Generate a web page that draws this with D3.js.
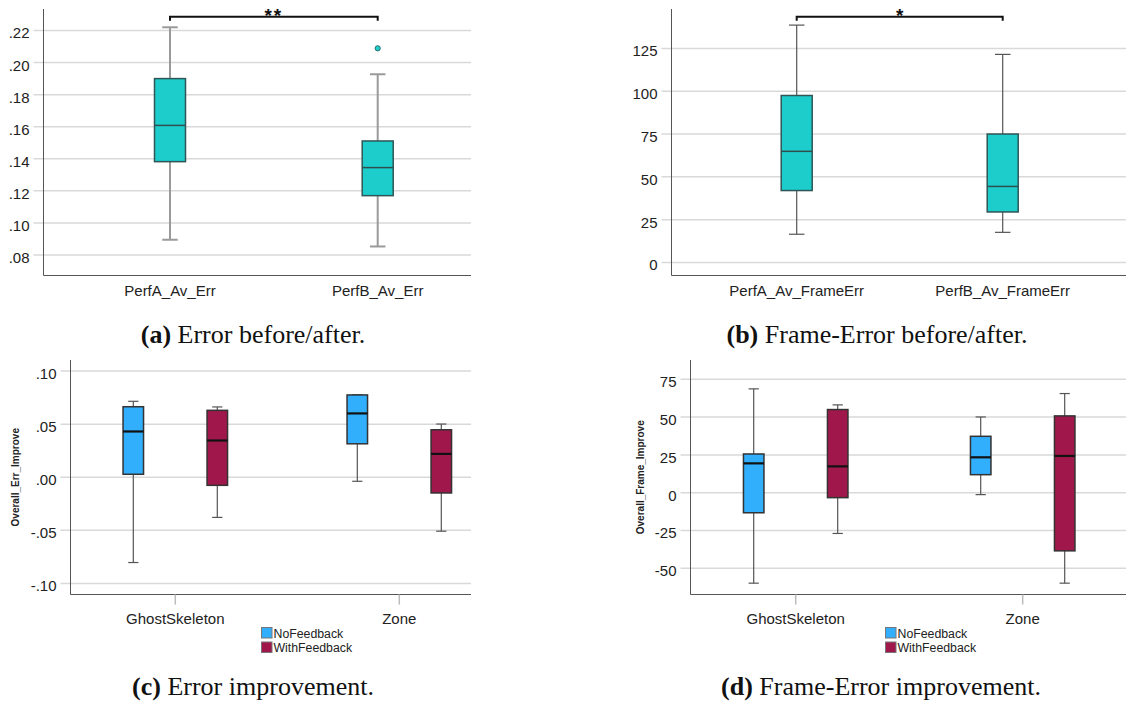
<!DOCTYPE html>
<html>
<head>
<meta charset="utf-8">
<script src="https://cdn.jsdelivr.net/npm/d3@7"></script>
<style>
  body { margin: 0; background: #fff; }
  svg { display: block; font-family: "Liberation Sans", Arial, sans-serif; }
</style>
</head>
<body>
<div id="chart"></div>
<script>
(function () {

  // ---- data ----
  // box stats: [min whisker, q1, median, q3, max whisker]
  const errLabels = ["PerfA_Av_Err", "PerfB_Av_Err"]
  const errBoxes = [[0.0895, 0.1382, 0.1608, 0.1900, 0.2220], [0.0853, 0.1170, 0.1345, 0.1511, 0.1927]]
  const errOutliers = [[], [0.2089]]
  const errTicks = [0.08, 0.10, 0.12, 0.14, 0.16, 0.18, 0.20, 0.22]

  const frameLabels = ["PerfA_Av_FrameErr", "PerfB_Av_FrameErr"]
  const frameBoxes = [[16.5, 42.0, 64.9, 97.5, 138.6], [17.6, 29.5, 44.4, 75.0, 121.5]]
  const frameOutliers = [[], []]
  const frameTicks = [0, 25, 50, 75, 100, 125]

  const methods = ["GhostSkeleton", "Zone"]
  const feedback = ["NoFeedback", "WithFeedback"]
  // [method][feedback]
  const errImpBoxes = [
    [[-0.0803, 0.0028, 0.0431, 0.0664, 0.0715], [-0.0378, -0.0076, 0.0346, 0.0630, 0.0662]],
    [[-0.0038, 0.0315, 0.0601, 0.0775, 0.0775], [-0.0508, -0.0148, 0.0220, 0.0447, 0.0501]]
  ]
  const errImpTicks = [-0.10, -0.05, 0.00, 0.05, 0.10]

  const frameImpBoxes = [
    [[-59.9, -13.3, 19.4, 25.6, 68.7], [-27.0, -3.3, 17.4, 55.0, 58.1]],
    [[-1.3, 11.9, 23.4, 37.3, 50.1], [-59.9, -38.5, 24.3, 50.8, 65.6]]
  ]
  const frameImpTicks = [-50, -25, 0, 25, 50, 75]

  const captions = [
    { tag: "(a)", text: " Error before/after." },
    { tag: "(b)", text: " Frame-Error before/after." },
    { tag: "(c)", text: " Error improvement." },
    { tag: "(d)", text: " Frame-Error improvement." }
  ]

  // ---- styling ----
  const teal = "#1ccdcc"
  const groupColor = d3.scaleOrdinal().domain(feedback).range(["#31aefc", "#a0184b"])
  const gridColor = "#d9d9d9"
  const axisColor = "#555"

  const svg = d3.select("#chart").append("svg")
      .attr("width", 1126)
      .attr("height", 704)

  const dotFmt = v => (v < 0 ? "-" : "") + Math.abs(v).toFixed(2).replace(/^0/, "")
  const intFmt = v => (v < 0 ? "-" : "") + Math.abs(v)

  // shared frame: y scale, gridlines, axis lines, tick labels
  function frame(p) {
    const g = svg.append("g")
    const y = d3.scaleLinear().domain(p.domain).range([p.bottom, p.top])

    g.selectAll("line.grid")
      .data(p.ticks)
      .join("line")
      .attr("x1", p.left - 10)
      .attr("x2", p.right)
      .attr("y1", d => y(d))
      .attr("y2", d => y(d))
      .attr("stroke", gridColor)
      .attr("stroke-width", 1.5)

    const ax = g.append("g")
      .attr("transform", "translate(" + p.left + ",0)")
      .call(d3.axisLeft(y).tickValues(p.ticks).tickFormat(p.fmt).tickSize(0).tickPadding(14))
    ax.select(".domain").remove()
    ax.selectAll("text")
      .attr("dy", "0.5em")
      .style("font-size", "15px")
      .attr("fill", "#222")

    g.append("line")
      .attr("x1", p.left).attr("x2", p.left)
      .attr("y1", p.top).attr("y2", p.bottom)
      .attr("stroke", axisColor)
    g.append("line")
      .attr("x1", p.left).attr("x2", p.right)
      .attr("y1", p.bottom).attr("y2", p.bottom)
      .attr("stroke", axisColor)

    return { g, y }
  }

  function drawBox(g, y, cx, w, s, st) {
    const [lo, q1, med, q3, hi] = s
    // whiskers
    g.append("line")
      .attr("x1", cx).attr("x2", cx)
      .attr("y1", y(hi)).attr("y2", y(lo))
      .attr("stroke", st.whisker).attr("stroke-width", st.whiskerW)
    ;[lo, hi].forEach(v => {
      g.append("line")
        .attr("x1", cx - w / 4).attr("x2", cx + w / 4)
        .attr("y1", y(v)).attr("y2", y(v))
        .attr("stroke", st.whisker).attr("stroke-width", st.whiskerW)
    })
    g.append("rect")
      .attr("x", cx - w / 2)
      .attr("y", y(q3))
      .attr("width", w)
      .attr("height", y(q1) - y(q3))
      .attr("fill", st.fill)
      .attr("stroke", st.stroke)
      .attr("stroke-width", 1.5)
    g.append("line")
      .attr("x1", cx - w / 2).attr("x2", cx + w / 2)
      .attr("y1", y(med)).attr("y2", y(med))
      .attr("stroke", st.median).attr("stroke-width", st.medianW)
  }

  // ---- panels (a) and (b): paired boxes with significance bracket ----
  function pairedPanel(p) {
    const { g, y } = frame(p)
    const x = d3.scalePoint().domain(p.cats).range(p.xRange)

    p.boxes.forEach((s, i) => {
      drawBox(g, y, x(p.cats[i]), 31, s, {
        fill: teal, stroke: "#2f5555", median: "#2f4f4f", medianW: 1.5,
        whisker: p.whisker, whiskerW: p.whiskerW
      })
      g.selectAll(null)
        .data(p.outliers[i])
        .join("circle")
        .attr("cx", x(p.cats[i]))
        .attr("cy", d => y(d))
        .attr("r", 2.6)
        .attr("fill", teal)
        .attr("stroke", "#2a7070")
    })

    g.selectAll("text.cat")
      .data(p.cats)
      .join("text")
      .attr("x", d => x(d))
      .attr("y", p.bottom + 20)
      .attr("text-anchor", "middle")
      .style("font-size", "15px")
      .attr("fill", "#222")
      .text(d => d)

    // bracket
    const x0 = x(p.cats[0]), x1 = x(p.cats[1])
    g.append("path")
      .attr("d", `M${x0},${p.bracketY + 4}V${p.bracketY}H${x1}V${p.bracketY + 4}`)
      .attr("fill", "none")
      .attr("stroke", "#111")
      .attr("stroke-width", 2)
    g.append("text")
      .attr("x", (x0 + x1) / 2)
      .attr("y", p.bracketY + 5.5)
      .attr("text-anchor", "middle")
      .style("font-size", "19px")
      .style("font-weight", "bold")
      .style("letter-spacing", p.star.length > 1 ? "2px" : "0px")
      .attr("fill", "#111")
      .text(p.star)
  }

  // ---- panels (c) and (d): grouped boxes with legend ----
  function groupedPanel(p) {
    const { g, y } = frame(p)
    const x = d3.scalePoint().domain(methods).range(p.xRange)
    const sub = d3.scalePoint().domain(feedback).range([-42, 42])

    methods.forEach((m, i) => {
      feedback.forEach((f, j) => {
        drawBox(g, y, x(m) + sub(f), 20.5, p.boxes[i][j], {
          fill: groupColor(f), stroke: "#333", median: "#111", medianW: 2.2,
          whisker: "#555", whiskerW: 1.2
        })
      })
    })

    g.selectAll("line.ctick")
      .data(methods)
      .join("line")
      .attr("x1", d => x(d)).attr("x2", d => x(d))
      .attr("y1", p.bottom).attr("y2", p.bottom + 10)
      .attr("stroke", "#bbb")
      .attr("stroke-width", 1.5)

    g.selectAll("text.cat")
      .data(methods)
      .join("text")
      .attr("x", d => x(d))
      .attr("y", p.bottom + 29)
      .attr("text-anchor", "middle")
      .style("font-size", "15px")
      .attr("fill", "#222")
      .text(d => d)

    g.append("text")
      .attr("transform", `translate(${p.titleX},${(p.top + p.bottom) / 2}) rotate(-90)`)
      .attr("text-anchor", "middle")
      .attr("dy", "0.35em")
      .style("font-size", "10px")
      .style("font-weight", "bold")
      .attr("fill", "#222")
      .text(p.title)

    // legend
    const lg = g.append("g").attr("transform", `translate(${p.legendX},${p.bottom + 33})`)
    feedback.forEach((f, j) => {
      lg.append("rect")
        .attr("x", 0).attr("y", j * 14.5)
        .attr("width", 10.5).attr("height", 10.5)
        .attr("fill", groupColor(f))
        .attr("stroke", "#777")
      lg.append("text")
        .attr("x", 12).attr("y", j * 14.5 + 10)
        .style("font-size", "12.3px")
        .attr("fill", "#222")
        .text(f)
    })
  }

  pairedPanel({
    left: 43.5, right: 471, top: 9, bottom: 275.5,
    domain: [0.0672, 0.2334], ticks: errTicks, fmt: dotFmt,
    cats: errLabels, xRange: [170, 377.7], boxes: errBoxes, outliers: errOutliers,
    whisker: "#9a9a9a", whiskerW: 2, bracketY: 16.7, star: "**"
  })

  pairedPanel({
    left: 671.5, right: 1126, top: 9, bottom: 275.5,
    domain: [-7.6, 148], ticks: frameTicks, fmt: intFmt,
    cats: frameLabels, xRange: [796.7, 1002.7], boxes: frameBoxes, outliers: frameOutliers,
    whisker: "#555", whiskerW: 1.2, bracketY: 16.7, star: "*"
  })

  groupedPanel({
    left: 70.5, right: 471, top: 360, bottom: 594.5,
    domain: [-0.1104, 0.1104], ticks: errImpTicks, fmt: dotFmt,
    xRange: [175.3, 399.3], boxes: errImpBoxes,
    title: "Overall_Err_Improve", titleX: 15.7, legendX: 261.5
  })

  groupedPanel({
    left: 690.5, right: 1126, top: 360, bottom: 594.5,
    domain: [-67.4, 87.8], ticks: frameImpTicks, fmt: intFmt,
    xRange: [795.7, 1022.7], boxes: frameImpBoxes,
    title: "Overall_Frame_Improve", titleX: 640, legendX: 885.5
  })

  // captions
  const capPos = [[253, 343], [877, 343], [253, 695], [881, 695]]
  captions.forEach((c, i) => {
    const t = svg.append("text")
      .attr("x", capPos[i][0])
      .attr("y", capPos[i][1])
      .attr("text-anchor", "middle")
      .style("font-family", "'Liberation Serif', 'Times New Roman', serif")
      .style("font-size", "26px")
      .attr("fill", "#111")
    t.append("tspan").style("font-weight", "bold").text(c.tag)
    t.append("tspan").text(c.text)
  })

})();
</script>
</body>
</html>
